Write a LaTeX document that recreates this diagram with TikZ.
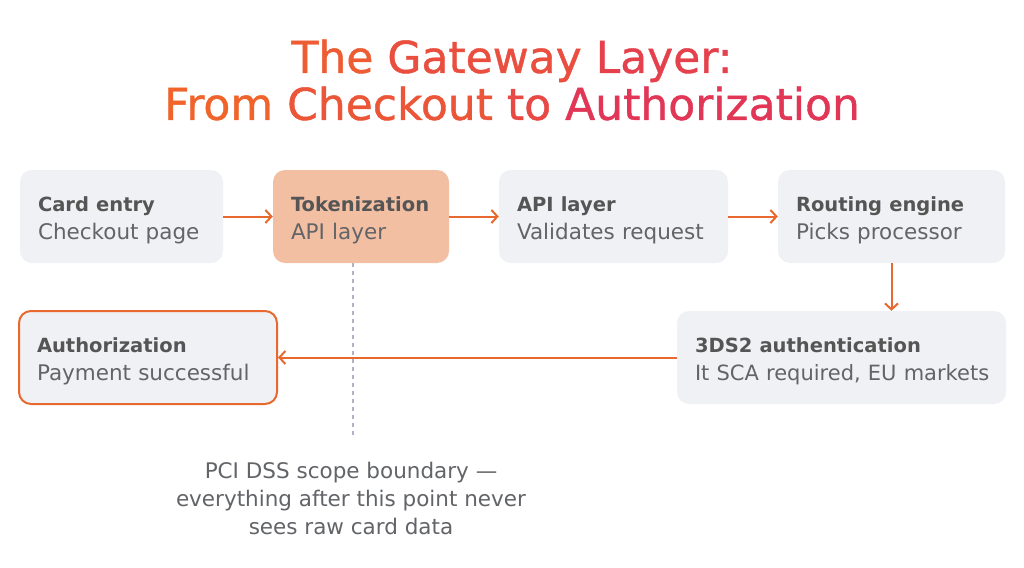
\documentclass[tikz,border=0pt]{standalone}
\usepackage{fontspec}
\setmainfont{DejaVu Sans}
\newfontfamily\titlefont{DejaVu Sans}[FakeBold=0.9]
\usetikzlibrary{arrows.meta}
\definecolor{boxgrey}{HTML}{F0F1F4}
\definecolor{peach}{HTML}{F3BFA3}
\definecolor{flow}{HTML}{E8692F}
\definecolor{inkdark}{HTML}{555555}
\definecolor{inklight}{HTML}{626468}
\definecolor{scope}{HTML}{B2B2C6}
\definecolor{titleA}{HTML}{F0642B}
\definecolor{titleB}{HTML}{E02E5E}
\newcommand{\stagehead}[1]{\rule{0pt}{23pt}{\fontsize{19.5}{28}\selectfont\bfseries\color{inkdark}#1}}
\newcommand{\tw}[2]{\textcolor{titleB!#1!titleA}{#2}}

\tikzset{
  stage/.style={fill=boxgrey, rounded corners=12pt, minimum height=93pt,
    inner xsep=18pt, inner ysep=0pt, align=left, text=inklight,
    font=\fontsize{21.5}{28}\selectfont},
  flowarrow/.style={->, draw=flow, line width=2pt},
}

\begin{document}
\begin{tikzpicture}[x=1pt,y=-1pt,>={Straight Barb[length=6pt,width=13pt]}]
				\useasboundingbox[fill=white] (0,0) rectangle (1024,567);
				% title
				\node[align=center, font=\titlefont\fontsize{44}{47}\selectfont] (title) at (512,80)
				  {\tw{15}{The} \tw{40}{Gateway} \tw{65}{Layer:}\\
				   \tw{0}{From} \tw{25}{Checkout} \tw{50}{to} \tw{85}{Authorization}};
				% top row
				\node[stage, text width=167pt] (card) at (121.5,216.5) {\stagehead{Card entry}\\Checkout page};
				\node[stage, fill=peach, text width=140pt] (token) at (361,216.5) {\stagehead{Tokenization}\\API layer};
				\node[stage, text width=193pt] (api) at (613.5,216.5) {\stagehead{API layer}\\Validates request};
				\node[stage, text width=191pt] (route) at (891.5,216.5) {\stagehead{Routing engine}\\Picks processor};
				% bottom row
				\node[stage, text width=293pt] (tds) at (841.5,357.5) {\stagehead{3DS2 authentication}\\\mbox{\fontsize{21}{28}\selectfont It SCA required, EU markets}};
				\node[stage, draw=flow, line width=2pt, text width=222pt] (auth) at (148,357.5) {\stagehead{Authorization}\\Payment successful};
				% flow
				\draw[flowarrow] (card) -- (token);
				\draw[flowarrow] (token) -- (api);
				\draw[flowarrow] (api) -- (route);
				\draw[flowarrow] (route.south) -- (route.south |- tds.north);
				\draw[flowarrow] (tds) -- (auth);
				% scope boundary
				\coordinate (scopetop) at (353,263);
				\coordinate (scopeend) at (353,436);
				\draw[scope, line width=1.3pt, dash pattern=on 4pt off 4pt] (scopetop) -- (scopeend);
				\node[align=center, text=inklight, font=\fontsize{21.5}{28}\selectfont] (note) at (351,498)
				  {PCI DSS scope boundary —\\everything after this point never\\sees raw card data};
			\end{tikzpicture}
\end{document}
